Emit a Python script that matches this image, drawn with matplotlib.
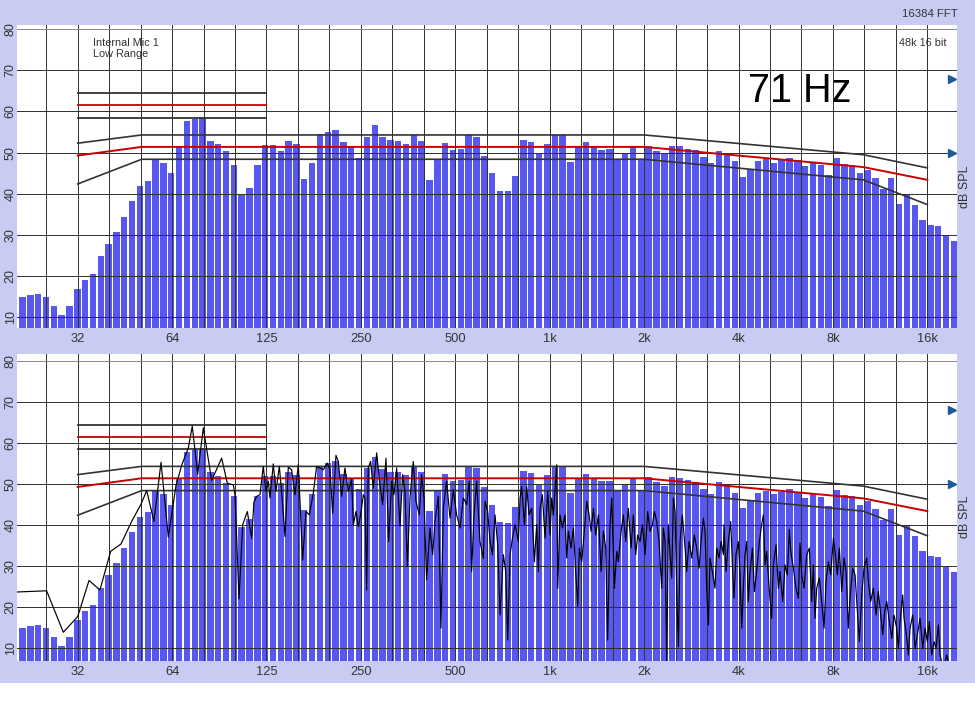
import numpy as np
import matplotlib
matplotlib.use('Agg')
import matplotlib.pyplot as plt
from matplotlib.patches import Rectangle

plt.rcParams['font.family'] = ['Liberation Sans', 'DejaVu Sans']

# ---------------- data ----------------
# 1/12-octave RTA bars (dB SPL), low to high frequency
BAR_DB = [
    14.9, 15.5, 15.6, 14.9, 12.8, 10.6, 12.8, 17.0, 19.0, 20.6,
    24.8, 27.9, 30.7, 34.4, 38.3, 41.9, 43.1, 48.3, 47.5, 45.0,
    51.4, 57.8, 58.2, 58.7, 52.9, 52.0, 50.3, 47.1, 39.6, 41.5,
    47.1, 51.9, 51.9, 50.3, 52.9, 52.2, 43.7, 47.5, 54.5, 55.1,
    55.6, 52.5, 51.4, 48.8, 53.8, 56.7, 53.7, 53.0, 52.9, 52.1,
    54.3, 52.9, 43.4, 48.3, 52.4, 50.7, 50.9, 54.3, 53.8, 49.2,
    45.0, 40.8, 40.6, 44.3, 53.1, 52.7, 49.7, 52.2, 54.3, 54.3,
    47.7, 51.4, 52.5, 51.4, 50.7, 50.8, 48.3, 49.8, 51.4, 48.3,
    51.7, 50.5, 49.6, 51.6, 51.5, 50.9, 50.6, 48.9, 47.6, 50.5,
    49.9, 47.9, 44.2, 46.0, 47.9, 48.4, 47.6, 48.1, 48.8, 48.1,
    46.7, 47.5, 46.9, 44.6, 48.6, 47.3, 47.1, 45.0, 45.9, 43.8,
    41.2, 43.8, 37.6, 39.9, 37.4, 33.6, 32.5, 32.2, 30.0, 28.5,
]

TICK_FREQS = [31.25, 62.5, 125, 250, 500, 1000, 2000, 4000, 8000, 16000]
TICK_LABELS = ['32', '64', '125', '250', '500', '1k', '2k', '4k', '8k', '16k']
Y_TICKS = [10, 20, 30, 40, 50, 60, 70, 80]

# target curve (red) with upper / lower tolerance (black)
TARGET_FREQ = [31.25, 50, 2000, 10000, 16000]
TARGET_MID = [49.3, 51.4, 51.4, 46.5, 43.4]
TARGET_UPPER = [52.3, 54.3, 54.3, 49.5, 46.3]
TARGET_LOWER = [42.4, 48.4, 48.4, 43.4, 37.4]

# short reference bars at low frequencies
SHORT_FREQ = [31.25, 125]
SHORT_DB = [64.5, 61.5, 58.5]

MARKER_DB = [68, 50]

# FFT trace of the lower panel: position in octaves re 1 kHz, level in dB
LINE_OCT = [
    -5.65, -5.329, -5.152, -5.000, -4.880, -4.764, -4.651, -4.541, -4.428, -4.329,
    -4.269, -4.192, -4.117, -4.040, -3.959, -3.898, -3.828, -3.786, -3.729, -3.669,
    -3.581, -3.475, -3.415, -3.351, -3.334, -3.291, -3.252, -3.203, -3.157,
    -3.133, -3.104, -3.069, -3.034, -3.005, -2.981, -2.963, -2.928, -2.900, -2.864,
    -2.840, -2.804, -2.769, -2.734, -2.698, -2.663, -2.645, -2.617, -2.582, -2.546,
    -2.504, -2.469, -2.433, -2.398, -2.356, -2.328, -2.299, -2.264, -2.239, -2.204,
    -2.169, -2.133, -2.098, -2.080, -2.052, -2.027, -2.003, -1.974, -1.957, -1.939,
    -1.922, -1.897, -1.869, -1.833, -1.805, -1.770, -1.734, -1.706, -1.674, -1.650,
    -1.621, -1.586, -1.558, -1.533, -1.508, -1.480, -1.445, -1.417, -1.381, -1.357,
    -1.332, -1.304, -1.268, -1.240, -1.215, -1.180, -1.152, -1.127, -1.092, -1.056,
    -1.021, -0.986, -0.950, -0.915, -0.880, -0.852, -0.827, -0.802, -0.774, -0.739,
    -0.703,
    -0.685, -0.657, -0.632, -0.607, -0.579, -0.551, -0.526, -0.491, -0.466, -0.445,
    -0.420, -0.395, -0.367, -0.332, -0.314, -0.297, -0.268, -0.244, -0.219, -0.191,
    -0.162, -0.138, -0.120, -0.102, -0.078, -0.049, -0.021, 0.004, 0.021, 0.039,
    0.057, 0.074, 0.085, 0.109, 0.134, 0.162, 0.180, 0.198, 0.226, 0.251,
    0.275, 0.297, 0.314, 0.339, 0.367, 0.392, 0.417, 0.438, 0.463, 0.487,
    0.516, 0.544, 0.569, 0.593, 0.614, 0.639, 0.657, 0.685, 0.710, 0.727,
    0.756, 0.780, 0.805, 0.833, 0.862, 0.886, 0.911, 0.932, 0.957, 0.982,
    1.010, 1.038, 1.063, 1.088, 1.109, 1.133, 1.158, 1.186, 1.204, 1.222,
    1.239, 1.257, 1.275, 1.292, 1.310, 1.328, 1.345, 1.363, 1.381, 1.405,
    1.434, 1.451, 1.476, 1.504, 1.532, 1.557, 1.582, 1.603, 1.628, 1.645,
    1.663, 1.681, 1.698, 1.723, 1.751, 1.769, 1.794, 1.815, 1.840,
    1.846, 1.868, 1.892, 1.917, 1.938, 1.952, 1.973, 1.998, 2.016, 2.034,
    2.051, 2.069, 2.086, 2.104, 2.122, 2.147, 2.168, 2.192, 2.221, 2.245,
    2.263, 2.281, 2.298, 2.327, 2.351, 2.369, 2.397, 2.422, 2.440, 2.468,
    2.493, 2.517, 2.538, 2.553, 2.581, 2.609, 2.634, 2.651, 2.669, 2.694,
    2.722, 2.750, 2.775, 2.793, 2.810, 2.828, 2.856, 2.881, 2.906, 2.927,
    2.952, 2.976, 3.005, 3.026, 3.047, 3.068, 3.093, 3.118, 3.139, 3.163,
    3.181, 3.209, 3.234, 3.252, 3.280, 3.305, 3.329, 3.358, 3.375, 3.400,
    3.428, 3.457, 3.481, 3.499, 3.527, 3.548, 3.570, 3.598, 3.623, 3.647,
    3.675, 3.693, 3.711, 3.739, 3.753, 3.774, 3.799, 3.817, 3.845, 3.870,
    3.894, 3.923, 3.951, 3.976, 4.000, 4.021, 4.046, 4.071, 4.092, 4.117,
    4.134, 4.152, 4.177, 4.205, 4.223, 4.240,
]
LINE_DB = [
    23.7, 24.0, 13.9, 17.7, 26.5, 24.2, 33.6, 35.4, 40.9, 45.1,
    48.4, 40.9, 55.3, 37.1, 49.6, 54.6, 58.8, 64.1, 52.4, 63.7,
    50.9, 56.3, 50.2, 49.8, 47.4, 22.0, 40.1, 43.3, 36.8,
    45.6, 47.0, 47.4, 54.3, 48.2, 50.7, 46.6, 54.9, 48.2, 54.3,
    48.2, 37.2, 54.1, 53.5, 47.4, 54.7, 45.8, 31.5, 43.3, 42.5,
    47.8, 54.3, 53.9, 53.5, 55.1, 53.5, 42.9, 57.0, 55.5, 47.0,
    53.9, 48.2, 51.1, 40.1, 43.3, 39.7, 42.5, 47.4, 46.6, 24.2,
    53.9, 55.5, 49.0, 57.6, 51.1, 45.0, 56.3, 36.0, 50.7, 47.4,
    53.9, 39.7, 52.3, 48.2, 29.9, 46.6, 55.5, 45.8, 42.5, 52.3,
    46.6, 26.7, 39.3, 32.8, 40.9, 47.0, 14.9, 44.1, 50.7, 41.7,
    48.6, 42.5, 39.3, 46.6, 45.0, 50.7, 28.7, 42.5, 50.7, 36.0,
    31.9,
    45.8, 43.3, 36.0, 32.8, 42.5, 35.2, 18.1, 32.8, 28.7, 12.0,
    32.8, 36.8, 40.1, 36.0, 46.6, 49.4, 40.1, 49.4, 42.5, 44.1,
    31.1, 40.1, 28.7, 44.1, 47.4, 36.8, 48.2, 37.6, 46.6, 42.5,
    49.0, 54.7, 24.6, 42.5, 39.3, 42.5, 32.0, 38.5, 34.4, 39.3,
    28.7, 20.2, 34.4, 31.1, 38.5, 45.8, 42.5, 38.5, 44.1, 37.6,
    42.5, 28.7, 38.5, 34.4, 12.0, 40.1, 46.6, 24.6, 33.6, 31.1,
    38.5, 42.5, 36.0, 44.1, 34.4, 42.5, 32.8, 37.6, 36.0, 40.1,
    32.8, 43.3, 38.5, 40.1, 43.3, 40.9, 36.0, 24.6, 39.3, 36.0,
    6.7, 40.1, 32.8, 27.1, 46.6, 43.3, 24.6, 10.4, 36.0, 42.5,
    34.4, 28.7, 36.0, 32.0, 37.6, 34.4, 29.5, 36.0, 41.7, 38.5,
    24.6, 15.7, 32.0, 28.7, 24.6, 34.4, 32.0, 36.0, 32.8,
    40.1, 28.7, 36.0, 40.9, 28.7, 22.2, 32.8, 36.0, 27.9, 14.9,
    24.6, 32.8, 36.0, 21.4, 28.7, 34.4, 23.8, 28.7, 36.0, 40.1,
    42.5, 30.3, 33.6, 23.8, 17.3, 30.3, 35.2, 24.6, 28.7, 21.4,
    30.3, 27.9, 38.9, 33.6, 29.5, 24.6, 22.2, 35.6, 27.9, 24.6,
    32.8, 34.4, 21.4, 30.3, 17.3, 24.6, 27.1, 21.4, 14.9, 26.3,
    31.1, 27.9, 36.8, 32.8, 27.9, 34.4, 23.8, 32.0, 28.7, 14.9,
    22.2, 29.5, 27.9, 21.4, 11.6, 23.0, 29.5, 32.0, 26.3, 21.4,
    24.6, 18.1, 23.8, 19.8, 13.3, 18.9, 21.4, 16.5, 12.4, 18.1,
    14.9, 10.0, 16.5, 23.0, 17.3, 14.1, 8.4, 14.9, 18.1, 10.0,
    13.3, 17.3, 10.0, 14.9, 11.6, 16.5, 8.4, 11.6, 10.0, 15.7,
    8.4, 6.7, 5.1, 8.4, 6.7, 5.1,
]

# ---------------- style ----------------
BG = '#c9ccf2'
BAR_COLOR = '#5858f0'
GRID_COLOR = '#2e2e2e'
BLACK_LINE = '#333333'
RED_LINE = '#c80000'
TEXT_COLOR = '#333333'

fig = plt.figure(figsize=(9.75, 7.12), dpi=100, facecolor=BG)
fig.patches.append(Rectangle((0, 0), 1, 29 / 712, transform=fig.transFigure,
                             facecolor='white', edgecolor='none', zorder=0))

n_bars = len(BAR_DB)
step = 0.0829
oct_c = -5.584 + np.arange(n_bars) * step
half = step * 0.41
bar_left = 1000 * 2 ** (oct_c - half)
bar_right = 1000 * 2 ** (oct_c + half)
grid_freqs = [1000 * 2 ** (k / 3) for k in range(-16, 13)]


def setup(ax, ylim):
    ax.set_facecolor('white')
    ax.set_xscale('log', base=2)
    ax.set_xlim(20.06, 19850)
    ax.set_ylim(*ylim)
    ax.bar(bar_left, BAR_DB, width=bar_right - bar_left, align='edge',
           color=BAR_COLOR, edgecolor='none', zorder=1)
    for f in grid_freqs:
        ax.axvline(f, color=GRID_COLOR, lw=0.7, zorder=1.5)
    for y in Y_TICKS:
        ax.axhline(y, color='#888888' if y == 80 else GRID_COLOR, lw=0.7, zorder=1.5)
    # short reference lines
    for lvl, col in zip(SHORT_DB, [BLACK_LINE, RED_LINE, BLACK_LINE]):
        ax.plot(SHORT_FREQ, [lvl, lvl], color=col, lw=1.3, zorder=3)
    ax.plot(TARGET_FREQ, TARGET_UPPER, color=BLACK_LINE, lw=1.2, zorder=3)
    ax.plot(TARGET_FREQ, TARGET_LOWER, color=BLACK_LINE, lw=1.2, zorder=3)
    ax.plot(TARGET_FREQ, TARGET_MID, color=RED_LINE, lw=1.4, zorder=3)
    ax.set_xticks(TICK_FREQS)
    ax.set_xticklabels(TICK_LABELS)
    ax.xaxis.set_minor_locator(matplotlib.ticker.NullLocator())
    ax.set_yticks(Y_TICKS)
    ax.set_yticklabels([str(v) for v in Y_TICKS])
    ax.tick_params(axis='x', length=0, labelsize=9.3, colors=TEXT_COLOR, pad=3.5)
    ax.tick_params(axis='y', length=0, labelsize=9, colors=TEXT_COLOR, pad=0.5,
                   labelrotation=90)
    for lbl in ax.get_yticklabels():
        lbl.set_va('center')
    for s in ax.spines.values():
        s.set_visible(False)
    ax.plot([0.9945] * len(MARKER_DB), MARKER_DB, marker='>', ls='none',
            color='#1d5b96', markersize=6,
            transform=ax.get_yaxis_transform(), clip_on=False, zorder=5)


ax1 = fig.add_axes([0.01774, 0.53975, 0.9635, 0.42514])
setup(ax1, (7.5, 81.0))
ax2 = fig.add_axes([0.01774, 0.07163, 0.9635, 0.43076])
setup(ax2, (6.9, 81.6))

line_f = 1000 * 2 ** np.array(LINE_OCT)
ax2.plot(line_f, LINE_DB, color='black', lw=0.85, zorder=4)

# texts
ax1.text(0.0806, 0.957, 'Internal Mic 1\nLow Range', transform=ax1.transAxes,
         ha='left', va='top', fontsize=7.8, color=TEXT_COLOR, linespacing=1.15)
ax1.text(0.9894, 0.958, '48k 16 bit', transform=ax1.transAxes,
         ha='right', va='top', fontsize=7.8, color=TEXT_COLOR)
ax1.text(0.7782, 0.7466, '71 Hz', transform=ax1.transAxes,
         ha='left', va='baseline', fontsize=28.5, color='black')
fig.text(958 / 975, 1 - 16.7 / 712, '16384 FFT', ha='right', va='baseline',
         fontsize=8.2, color=TEXT_COLOR)
for yc in (187, 517):
    fig.text(965 / 975, 1 - yc / 712, 'dB SPL', rotation=90, ha='center',
             va='center', fontsize=9, color=TEXT_COLOR)

fig.savefig('out.png', dpi=100, facecolor=BG)
